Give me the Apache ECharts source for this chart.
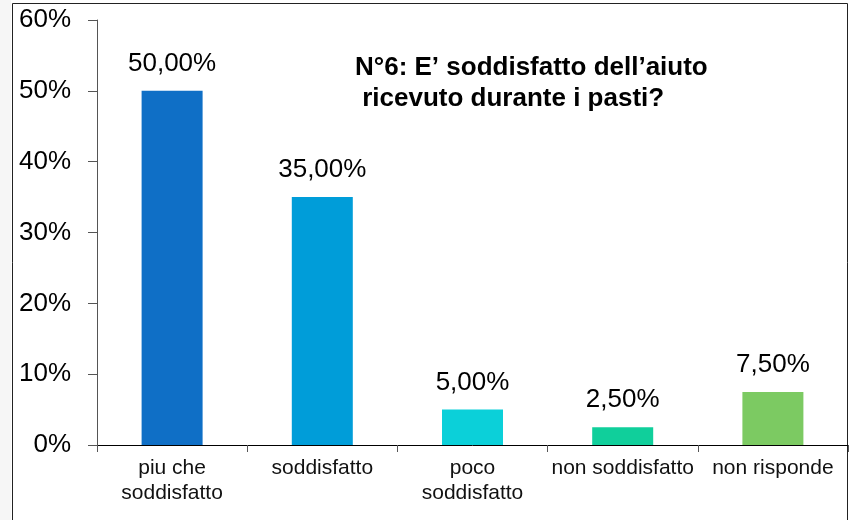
<!DOCTYPE html>
<html>
<head>
<meta charset="utf-8">
<script src="https://cdn.jsdelivr.net/npm/echarts@6/dist/echarts.min.js"></script>
<style>
  html, body { margin: 0; padding: 0; background: #fff; }
  #chart { width: 849px; height: 520px; }
</style>
</head>
<body>
<div id="chart"></div>
<script>
// dati del grafico
const categories = ['piu che\nsoddisfatto', 'soddisfatto', 'poco\nsoddisfatto', 'non soddisfatto', 'non risponde'];
const values = [50, 35, 5, 2.5, 7.5];
const barColors = ['#0f6fc6', '#009dd9', '#0bd0d9', '#10cf9b', '#7cca62'];
const titleLines = ['N°6: E’ soddisfatto dell’aiuto', ' ricevuto durante i pasti?'];

const chart = echarts.init(document.getElementById('chart'));

// formato italiano con virgola
function pct(v) {
  return v.toFixed(2).replace('.', ',') + '%';
}

const option = {
  animation: false,
  backgroundColor: '#fff',
  grid: { left: 97, right: 1, top: 20, bottom: 75, containLabel: false },
  graphic: [
    {
      // bordo tratteggiato chiaro a sinistra
      type: 'rect',
      shape: { x: 0, y: 0, width: 11, height: 520 },
      style: { fill: '#f6f6f6' },
      z: -2
    },
    {
      type: 'rect',
      shape: { x: 12.5, y: 3.5, width: 835, height: 530 },
      style: { fill: '#fff', stroke: '#222', lineWidth: 1 },
      z: -1
    },
    {
      type: 'text',
      left: 355, top: 52,
      style: {
        text: titleLines.join('\n'),
        font: 'bold 26px Arial, "Liberation Sans", sans-serif',
        fill: '#000',
        lineHeight: 31
      }
    }
  ],
  xAxis: {
    type: 'category',
    data: categories,
    axisLine: { lineStyle: { color: '#000', width: 1 } },
    axisTick: { show: true, length: 7, lineStyle: { color: '#555' } },
    axisLabel: {
      color: '#111',
      fontSize: 21,
      fontFamily: 'Arial, "Liberation Sans", sans-serif',
      lineHeight: 25,
      margin: 11,
      interval: 0
    }
  },
  yAxis: {
    type: 'value',
    min: 0, max: 60, interval: 10,
    axisLine: { show: true, lineStyle: { color: '#555', width: 1 } },
    axisTick: { show: true, length: 9, lineStyle: { color: '#555' } },
    splitLine: { show: false },
    axisLabel: {
      formatter: '{value}%',
      color: '#000',
      fontSize: 26,
      fontFamily: 'Arial, "Liberation Sans", sans-serif',
      margin: 26
    }
  },
  series: [{
    type: 'bar',
    barWidth: 61,
    data: values.map((v, i) => ({ value: v, itemStyle: { color: barColors[i] } })),
    label: {
      show: true,
      position: 'top',
      distance: 14,
      formatter: p => pct(p.value),
      color: '#000',
      fontSize: 26,
      fontFamily: 'Arial, "Liberation Sans", sans-serif'
    }
  }]
};

chart.setOption(option);
</script>
</body>
</html>
